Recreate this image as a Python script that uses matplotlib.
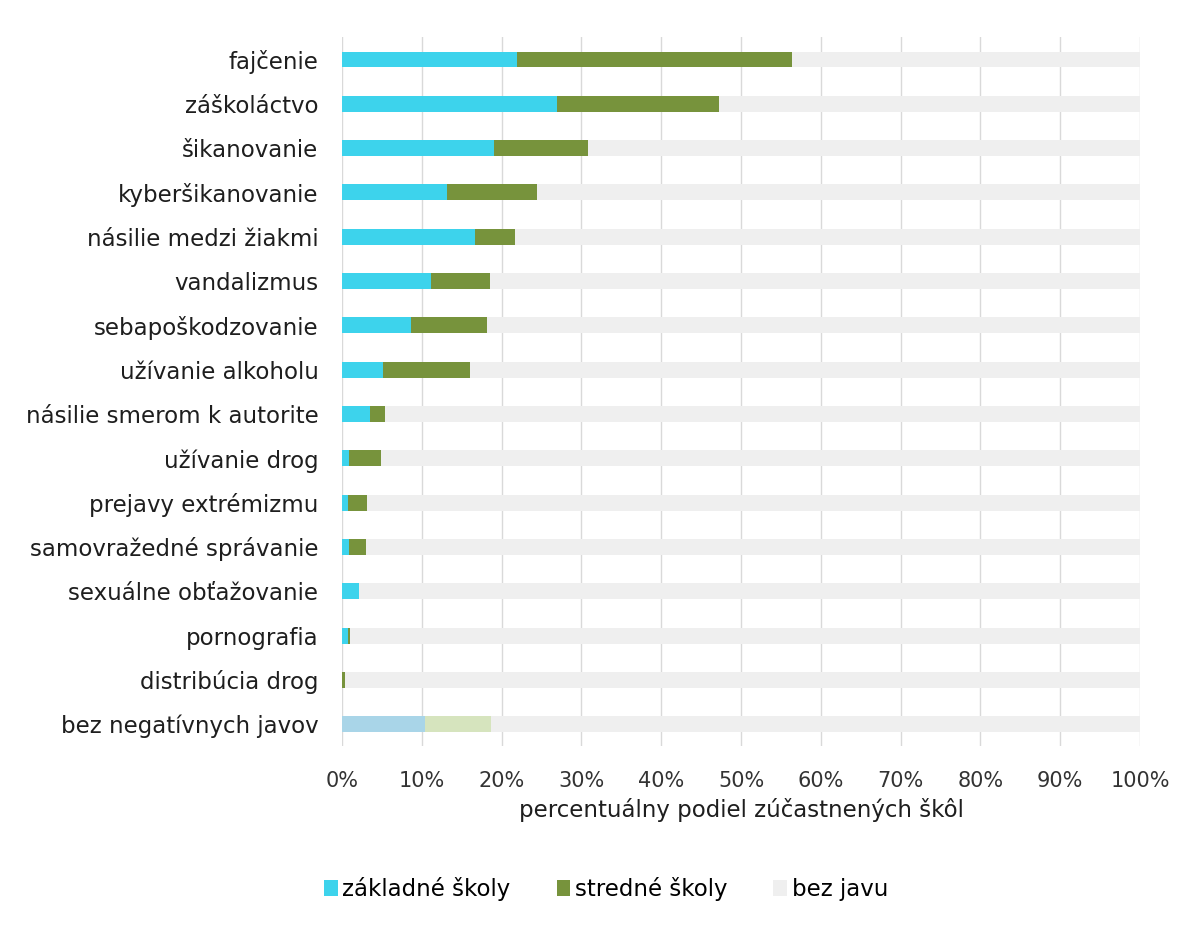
import numpy as np
import matplotlib
matplotlib.use('Agg')
import matplotlib.pyplot as plt

categories = [
    "fajčenie", "záškoláctvo", "šikanovanie", "kyberšikanovanie",
    "násilie medzi žiakmi", "vandalizmus", "sebapoškodzovanie",
    "užívanie alkoholu", "násilie smerom k autorite", "užívanie drog",
    "prejavy extrémizmu", "samovražedné správanie", "sexuálne obťažovanie",
    "pornografia", "distribúcia drog", "bez negatívnych javov",
]
zakladne = [21.9, 27.0, 19.1, 13.1, 16.7, 11.1, 8.7, 5.2, 3.5, 0.9, 0.8, 0.9, 2.1, 0.8, 0.0, 10.4]
stredne = [34.5, 20.2, 11.7, 11.3, 5.0, 7.5, 9.5, 10.8, 1.9, 4.0, 2.3, 2.1, 0.0, 0.2, 0.4, 8.3]

CYAN = '#3DD3EC'
GREEN = '#77933C'
GRAY = '#EFEFEF'

plt.rcParams['font.family'] = ['DejaVu Sans']

fig = plt.figure(figsize=(12, 9.33), dpi=100)
ax = fig.add_axes([0.285, 0.2, 0.665, 0.76])

y = np.arange(len(categories))
zs = np.array(zakladne)
ss = np.array(stredne)
rest = 100 - zs - ss

# last row (no negative phenomena) is drawn in pale tints
c1 = [CYAN] * (len(categories) - 1) + ['#A9D5E8']
c2 = [GREEN] * (len(categories) - 1) + ['#D6E4BE']

h = 0.36
ax.barh(y, zs, height=h, color=c1, label='základné školy', zorder=3)
ax.barh(y, ss, left=zs, height=h, color=c2, label='stredné školy', zorder=3)
ax.barh(y, rest, left=zs + ss, height=h, color=GRAY, label='bez javu', zorder=2)

ax.set_ylim(len(categories) - 0.5, -0.5)
ax.set_xlim(0, 100)
ax.set_yticks(y)
ax.set_yticklabels(categories, fontsize=16.5, color='#1e1e1e')
ax.set_xticks(np.arange(0, 101, 10))
ax.set_xticklabels([f"{v}%" for v in range(0, 101, 10)], fontsize=15, color='#333333')
ax.tick_params(axis='y', length=0, pad=17)
ax.tick_params(axis='x', length=0, pad=18)
ax.grid(axis='x', color='#D9D9D9', linewidth=1, zorder=0)
for s in ax.spines.values():
    s.set_visible(False)
ax.set_xlabel("percentuálny podiel zúčastnených škôl", fontsize=16.5,
              color='#1e1e1e', labelpad=5)

fig.legend(loc='center', bbox_to_anchor=(0.505, 0.047), ncol=3, frameon=False,
           fontsize=16.5, handlelength=0.6, handleheight=0.7, handletextpad=0.2,
           columnspacing=2.0)

plt.savefig('out.png', dpi=100)
plt.close()
